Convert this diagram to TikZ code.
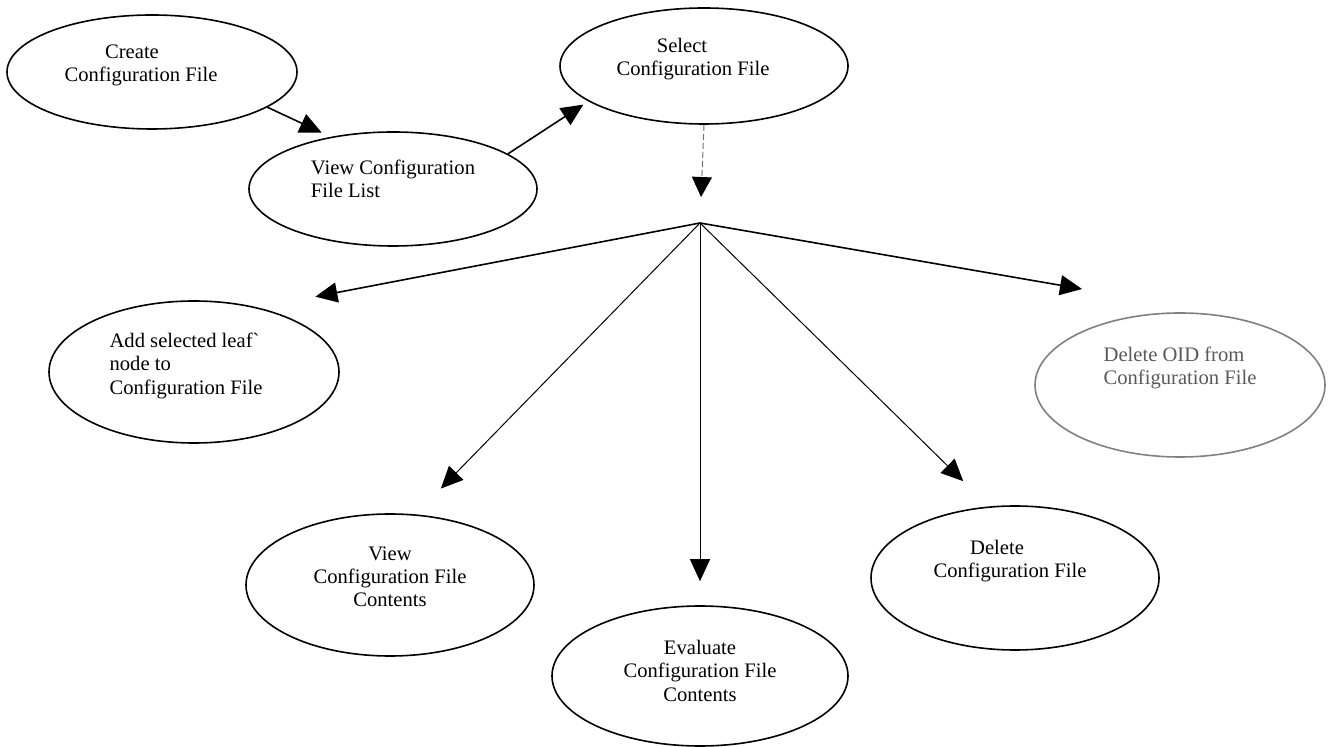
\documentclass[tikz,border=0pt]{standalone}
\usepackage{fontspec}
\setmainfont{Liberation Serif}
\usetikzlibrary{arrows.meta,shapes.geometric}
\tikzset{
  uc/.style={ellipse,draw=black,line width=0.8pt,inner sep=0pt,font=\fontsize{10.3}{11.7}\selectfont,align=center},
  ucfade/.style={uc,draw=black!50,text=black!65},
  lift/.style={text depth=#1},
  arr/.style={-{Triangle[length=11pt,width=10pt]},line width=0.8pt,draw=black},
  thinarr/.style={arr,line width=0.5pt},
  dasharr/.style={-{Triangle[length=10pt,width=10pt,black]},line width=0.5pt,draw=black!55,dash pattern=on 3pt off 1.5pt},
}
\begin{document}
\begin{tikzpicture}[x=0.5pt,y=-0.5pt]
  \useasboundingbox (0,0) rectangle (1337,747);
  % use cases
  \node[uc,minimum width=145pt,minimum height=57pt,lift=9pt] (create) at (152,72) {Create\hspace*{20pt}\\Configuration File\hspace*{11pt}};
  \node[uc,align=left,minimum width=144pt,minimum height=57pt,lift=10pt] (viewl) at (393,189) {View Configuration\\File List\hspace*{0pt}};
  \node[uc,minimum width=144pt,minimum height=58pt,lift=9pt] (select) at (704,66) {Select\hspace*{22pt}\\Configuration File\hspace*{11pt}};
  \node[uc,align=left,minimum width=145pt,minimum height=71pt,lift=8.4pt] (add) at (194,372) {Add selected leaf\textasciigrave\\node to\\Configuration File\hspace*{8pt}};
  \node[uc,minimum width=144pt,minimum height=71pt,lift=8.4pt] (viewc) at (390,585) {View\\Configuration File\\Contents};
  \node[uc,minimum width=148pt,minimum height=70pt,lift=5.4pt] (eval) at (700,676) {Evaluate\\Configuration File\\Contents};
  \node[uc,minimum width=144pt,minimum height=72pt,lift=19pt] (del) at (1015,578) {Delete\hspace*{18pt}\\Configuration File\hspace*{5pt}};
  \node[ucfade,align=left,minimum width=145pt,minimum height=72pt,lift=19pt] (oid) at (1180,385) {Delete OID from\\Configuration File};
  % branch point
  \coordinate (hub) at (700,223);
  \coordinate (oidtip) at (1082,289);
  \draw[arr,shorten >=5pt] (create.343) -- (viewl.140);
  \draw[arr,shorten >=3pt] (viewl.17) -- (select.197);
  \draw[dasharr,shorten >=13pt] (select.south) -- (hub);
  \draw[arr,shorten >=29pt] (hub) -- (add.45);
  \foreach \t/\a/\s in {viewc/70/18pt,eval/north/12pt,del/110/18pt}{\draw[thinarr,shorten >=\s] (hub) -- (\t.\a);}
  \draw[arr] (hub) -- (oidtip);
\end{tikzpicture}
\end{document}
